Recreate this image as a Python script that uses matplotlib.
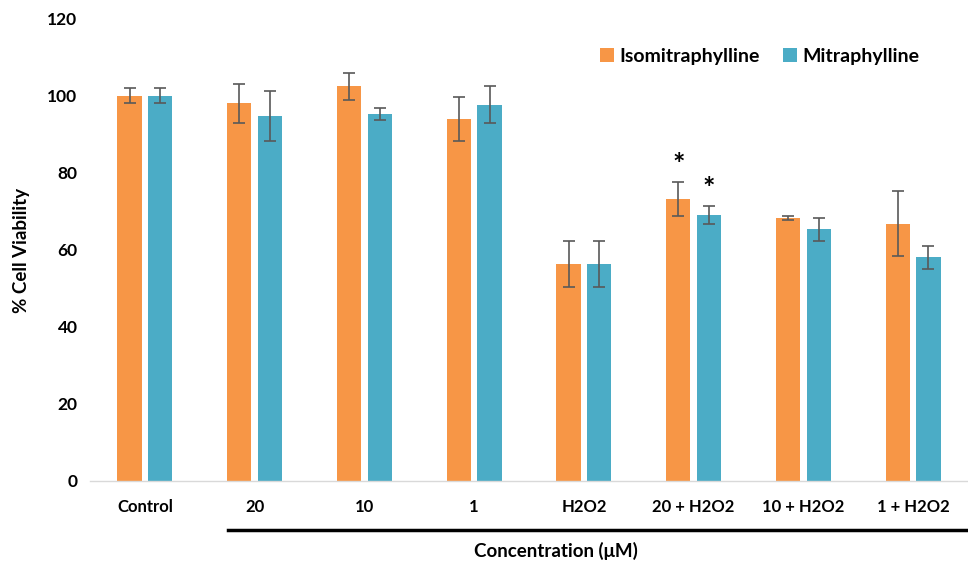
import matplotlib.pyplot as plt
import numpy as np

plt.rcParams['font.family'] = ['Lato', 'DejaVu Sans']

# Data
groups = ["Control", "20", "10", "1", "H2O2", "20 + H2O2", "10 + H2O2", "1 + H2O2"]
iso_mean = [100, 98, 102.5, 94, 56.4, 73.2, 68.2, 66.8]
iso_err = [2, 5, 3.5, 5.7, 6, 4.4, 0.5, 8.5]
mit_mean = [100, 94.8, 95.3, 97.7, 56.4, 69.0, 65.3, 58.1]
mit_err = [2, 6.5, 1.5, 4.8, 6, 2.4, 3, 3]
star_groups = [5]  # significant groups

orange = "#F79646"
blue = "#4BACC6"

fig = plt.figure(figsize=(9.68, 5.69), dpi=100)
ax = fig.add_axes([0.093, 0.155, 0.907, 0.812])

x = np.arange(len(groups))
off = 0.14
w = 0.22
ekw = dict(ecolor="#595959", elinewidth=1.2, capsize=4, capthick=1.2)
ax.bar(x - off, iso_mean, w, yerr=iso_err, color=orange, label="Isomitraphylline", error_kw=ekw)
ax.bar(x + off, mit_mean, w, yerr=mit_err, color=blue, label="Mitraphylline", error_kw=ekw)

for g in star_groups:
    ax.text(g - off, iso_mean[g] + iso_err[g] + 1.0, "*", ha="center", va="bottom",
            fontsize=21, fontweight="bold")
    ax.text(g + off, mit_mean[g] + mit_err[g] + 1.0, "*", ha="center", va="bottom",
            fontsize=21, fontweight="bold")

ax.set_xlim(-0.5, 7.5)
ax.set_ylim(0, 120)
ax.set_yticks(range(0, 121, 20))
ax.set_xticks(x)
ax.set_xticklabels(groups, fontsize=12, fontweight="bold")
for lab in ax.get_yticklabels():
    lab.set_fontsize(12.5)
    lab.set_fontweight("bold")
ax.tick_params(axis="both", length=0)
ax.tick_params(axis="x", pad=13)
ax.tick_params(axis="y", pad=9)

for s in ["top", "right", "left"]:
    ax.spines[s].set_visible(False)
ax.spines["bottom"].set_color("#D9D9D9")
ax.spines["bottom"].set_linewidth(1)

fig.text(22 / 968, 0.56, "% Cell Viability", rotation=90, ha="center", va="center",
         fontsize=13.5, fontweight="bold")
fig.text(0.574, 1 - 551 / 569, "Concentration (\u03bcM)", ha="center", va="center",
         fontsize=13.5, fontweight="bold")

# underline below concentration groups
ax.plot([0.755, 7.5], [-0.106, -0.106], color="black", lw=2.5,
        transform=ax.get_xaxis_transform(), clip_on=False)

leg = ax.legend(loc="upper right", bbox_to_anchor=(0.965, 0.975), ncol=2, frameon=False,
                prop={"size": 14, "weight": "bold"}, handlelength=0.7, handleheight=0.7,
                handletextpad=0.3, columnspacing=1.2)

plt.savefig("out.png", dpi=100)
plt.close()
